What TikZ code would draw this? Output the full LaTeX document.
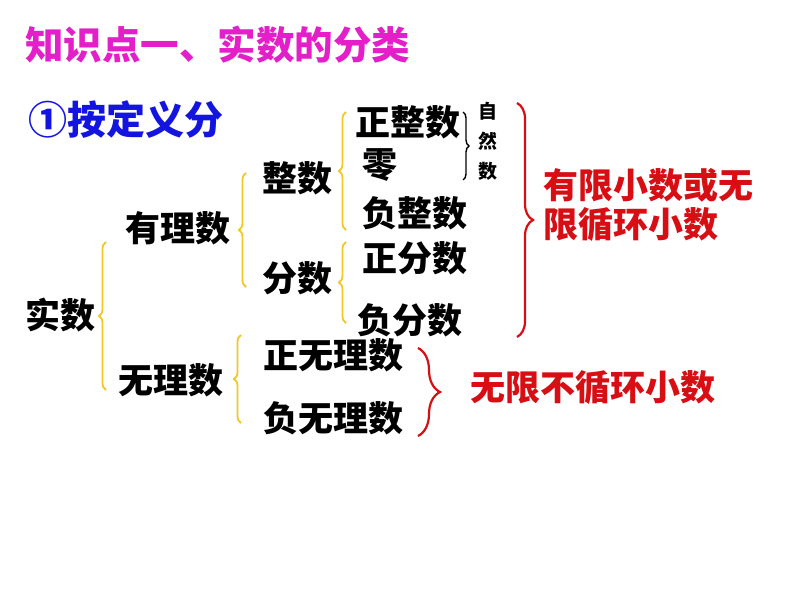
\documentclass[tikz,border=0pt]{standalone}
\usepackage{fontspec}
\newfontfamily\cjk{Noto Sans CJK SC}
\usetikzlibrary{decorations.pathreplacing}
\definecolor{ttl}{RGB}{228,30,200}
\definecolor{bl}{RGB}{20,20,225}
\definecolor{rd}{RGB}{215,15,20}
\definecolor{yl}{RGB}{240,200,40}
\tikzset{
  txt/.style={anchor=west,inner sep=0pt,font=\cjk\bfseries\fontsize{35}{40}\selectfont},
  rtxt/.style={txt,text=rd},
  ybrace/.style={draw=yl,line width=1.8pt,decorate,decoration={brace,amplitude=7pt}},
  rbrace/.style={draw=rd,line width=2.2pt,decorate,decoration={brace,amplitude=#1}},
  kbrace/.style={draw=black,line width=1.4pt,decorate,decoration={brace,amplitude=6pt}},
}
\begin{document}
\begin{tikzpicture}[x=1pt,y=-1pt]
\useasboundingbox[fill=white] (0,0) rectangle (794,596);
\node[txt,text=ttl,font=\cjk\bfseries\fontsize{38.5}{44}\selectfont] (title) at (25,45) {知识点一、实数的分类};
\node[txt,text=bl,font=\cjk\bfseries\fontsize{39}{44}\selectfont] (sub) at (28,120) {①按定义分};
\node[txt] (shishu) at (25,315) {实数};
\node[txt] (youli) at (125,228) {有理数};
\node[txt] (wuli) at (118,380) {无理数};
\node[txt] (zheng) at (262,178) {整数};
\node[txt] (fen) at (262,278) {分数};
\node[txt] (zzs) at (355,122) {正整数};
\node[txt] (ling) at (362,165) {零};
\node[txt] (fzs) at (362,213) {负整数};
\node[txt] (zfs) at (362,258) {正分数};
\node[txt] (ffs) at (357,320) {负分数};
\node[txt] (zwl) at (263,355) {正无理数};
\node[txt] (fwl) at (263,418) {负无理数};
\node[inner sep=0pt,align=center,font=\cjk\bfseries\fontsize{19}{30}\selectfont] (zrs) at (488,141) {自\\然\\数};
\node[rtxt] (r1) at (543,185) {有限小数或无};
\node[rtxt] (r2) at (543,225) {限循环小数};
\node[rtxt] (r3) at (470,388) {无限不循环小数};
% braces
\draw[ybrace] (106,390) -- (106,242);
\draw[ybrace] (246,287) -- (246,173);
\draw[ybrace] (346,230) -- (346,112);
\draw[ybrace] (346,323) -- (346,242);
\draw[ybrace] (241,423) -- (241,335);
\draw[kbrace] (463,112) -- (463,180);
\draw[rbrace=16pt] (517,103) -- (517,337);
\draw[rbrace=22pt] (418,348) -- (418,436);
\end{tikzpicture}
\end{document}
